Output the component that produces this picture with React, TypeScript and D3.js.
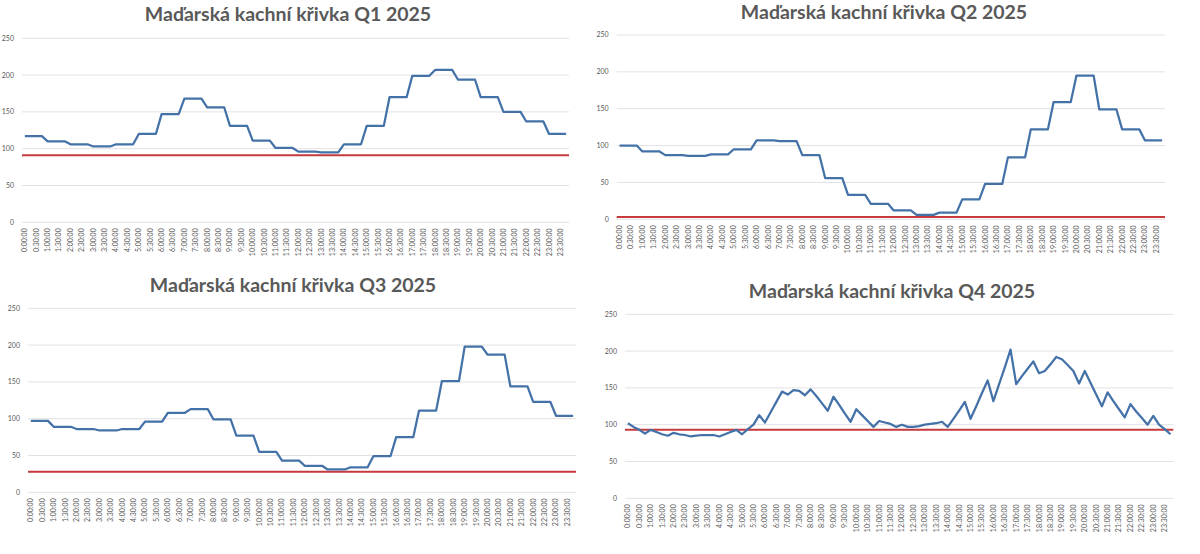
import React, { useRef, useEffect } from 'react';
import * as d3 from 'd3';

// hourly prices (EUR/MWh), shown at quarter-hour resolution
const Q1_HOURLY = [117, 110, 106, 103, 106, 120, 147, 168, 156, 131, 111, 101, 96, 95, 106, 131, 170, 199, 207, 194, 170, 150, 137, 120];
const Q2_HOURLY = [100, 92, 87, 86, 88, 95, 107, 106, 87, 56, 33, 21, 12, 6, 9, 27, 48, 84, 122, 159, 195, 149, 122, 107];
const Q3_HOURLY = [97, 89, 86, 84, 86, 96, 108, 113, 99, 77, 55, 43, 36, 31, 34, 49, 75, 111, 151, 198, 187, 144, 123, 104];

// Q4 already has 15-minute products
const Q4_QUARTER = [
  102, 97, 93, 88, 93, 90, 87, 85, 89, 87, 86, 84,
  85, 86, 86, 86, 84, 87, 90, 93, 87, 94, 100, 113,
  103, 117, 131, 145, 141, 147, 146, 140, 148, 139, 129, 119,
  138, 127, 115, 104, 121, 113, 105, 97, 105, 103, 101, 97,
  100, 97, 97, 98, 100, 101, 102, 104, 97, 108, 119, 131,
  108, 125, 143, 160, 132, 155, 178, 202, 155, 166, 176, 186,
  170, 173, 182, 192, 189, 181, 173, 156, 173, 157, 141, 125,
  144, 132, 121, 110, 128, 118, 109, 100, 112, 100, 94, 87,
];

// red reference levels
const LIMITS = [91, 3, 28, 93];

const TITLES = [
  'Maďarská kachní křivka Q1 2025',
  'Maďarská kachní křivka Q2 2025',
  'Maďarská kachní křivka Q3 2025',
  'Maďarská kachní křivka Q4 2025',
];

const Y_TICKS = [0, 50, 100, 150, 200, 250];

const QUARTERS = d3.range(96).map(
  (i) => `${Math.floor(i / 4)}:${String((i % 4) * 15).padStart(2, '0')}:00`
);

const toQuarters = (hourly: number[]) => hourly.flatMap((v) => [v, v, v, v]);

const SERIES = [toQuarters(Q1_HOURLY), toQuarters(Q2_HOURLY), toQuarters(Q3_HOURLY), Q4_QUARTER];

const LAYOUT = [
  { left: 22, right: 569, top: 38.3, bottom: 222.3, titleX: 288, titleY: 21 },
  { left: 616.7, right: 1165, top: 35, bottom: 219.3, titleX: 884, titleY: 19 },
  { left: 28, right: 576, top: 308.3, bottom: 492.3, titleX: 293, titleY: 292 },
  { left: 625, right: 1173.3, top: 314.3, bottom: 498.3, titleX: 892, titleY: 298 },
];

const LINE_COLOR = '#4472a8';
const LIMIT_COLOR = '#c43a3d';
const TEXT_COLOR = '#595959';
const GRID_COLOR = '#e2e2e2';
const FONT = 'Lato, "Liberation Sans", sans-serif';

export default function App() {
  const svgRef = useRef<SVGSVGElement>(null);

  useEffect(() => {
    if (!svgRef.current) return;
    const svg = d3.select(svgRef.current);
    svg.selectAll('*').remove();

    LAYOUT.forEach((box, k) => {
      const g = svg.append('g');
      const x = d3.scaleBand<string>().domain(QUARTERS).range([box.left, box.right]);
      const y = d3.scaleLinear().domain([0, 250]).range([box.bottom, box.top]);
      const cx = (c: string) => (x(c) ?? 0) + x.bandwidth() / 2;

      g.append('text')
        .attr('x', box.titleX)
        .attr('y', box.titleY)
        .attr('text-anchor', 'middle')
        .attr('fill', TEXT_COLOR)
        .style('font-family', FONT)
        .style('font-weight', 700)
        .style('font-size', '19.5px')
        .text(TITLES[k]);

      // gridlines + y labels
      g.selectAll('line.grid')
        .data(Y_TICKS)
        .enter()
        .append('line')
        .attr('x1', box.left)
        .attr('x2', box.right)
        .attr('y1', (d) => y(d))
        .attr('y2', (d) => y(d))
        .attr('stroke', GRID_COLOR)
        .attr('stroke-width', 1);

      g.selectAll('text.ytick')
        .data(Y_TICKS)
        .enter()
        .append('text')
        .attr('x', box.left - 8)
        .attr('y', (d) => y(d))
        .attr('dy', '0.35em')
        .attr('text-anchor', 'end')
        .attr('fill', TEXT_COLOR)
        .style('font-family', FONT)
        .style('font-size', '7px')
        .text((d) => d);

      // x labels every half hour, rotated
      g.selectAll('text.xtick')
        .data(QUARTERS.filter((_, i) => i % 2 === 0))
        .enter()
        .append('text')
        .attr('transform', (d) => `translate(${cx(d)},${box.bottom + 6}) rotate(-90)`)
        .attr('dy', '0.35em')
        .attr('text-anchor', 'end')
        .attr('fill', TEXT_COLOR)
        .style('font-family', FONT)
        .style('font-size', '7px')
        .text((d) => d);

      // reference level
      g.append('line')
        .attr('x1', box.left)
        .attr('x2', box.right)
        .attr('y1', y(LIMITS[k]))
        .attr('y2', y(LIMITS[k]))
        .attr('stroke', LIMIT_COLOR)
        .attr('stroke-width', 2);

      const line = d3
        .line<number>()
        .x((_, i) => cx(QUARTERS[i]))
        .y((d) => y(d));

      g.append('path')
        .attr('d', line(SERIES[k]))
        .attr('fill', 'none')
        .attr('stroke', LINE_COLOR)
        .attr('stroke-width', 2.25)
        .attr('stroke-linejoin', 'round');
    });
  }, []);

  return (
    <svg
      ref={svgRef}
      width={1200}
      height={554}
      style={{ position: 'absolute', left: 0, top: 0, background: '#fff' }}
    />
  );
}
